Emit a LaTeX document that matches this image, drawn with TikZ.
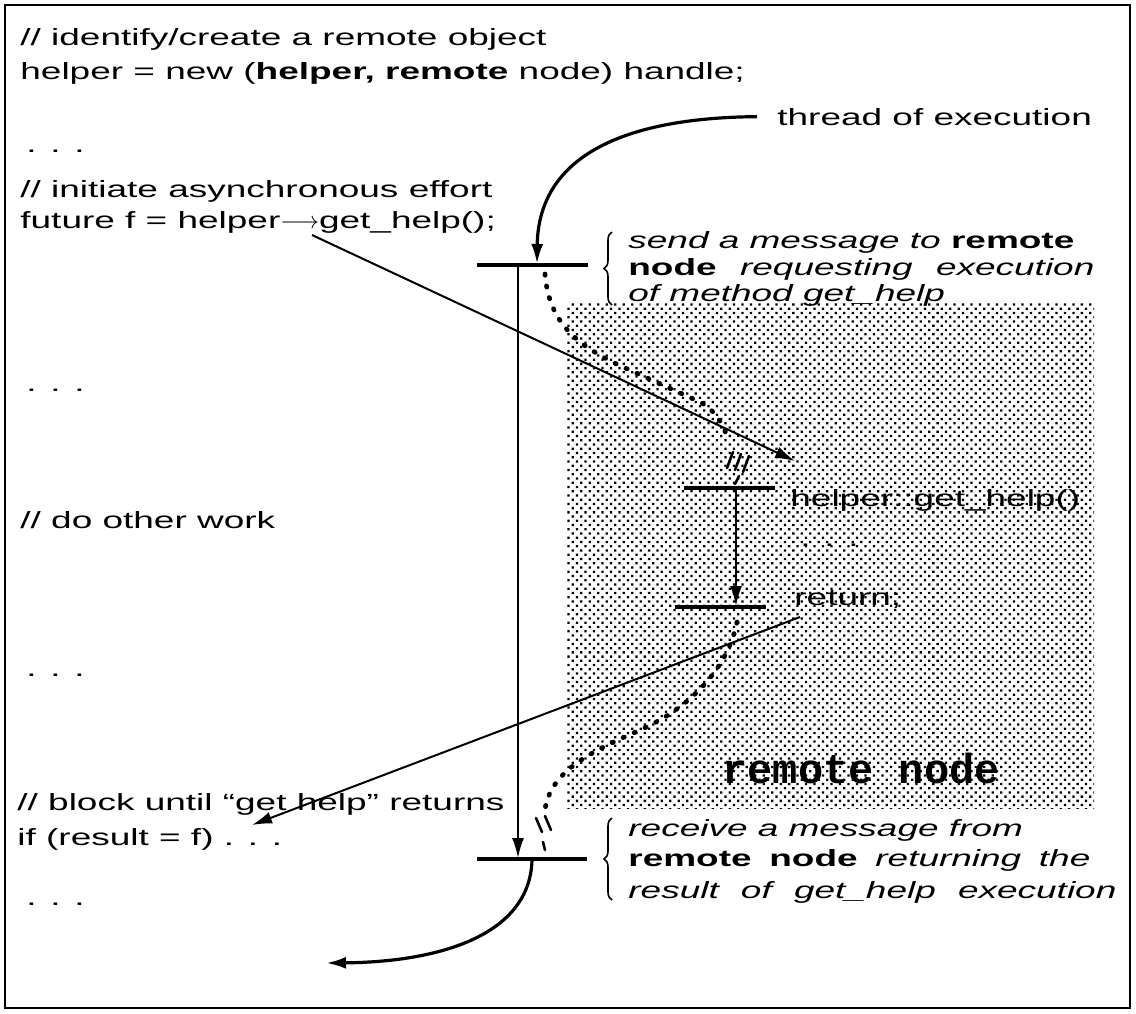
\documentclass[tikz,border=0pt]{standalone}
\usepackage{fontspec}
\setmainfont{Liberation Sans}
\newfontfamily\codefont[FakeStretch=1.58]{Liberation Sans}
\newfontfamily\labelfont{Liberation Mono}
\usetikzlibrary{arrows.meta,patterns.meta,decorations.pathreplacing}
\begin{document}
\begin{tikzpicture}[x=0.5pt,y=-0.5pt,
  txt/.style={anchor=base west,inner sep=0pt,font=\codefont\fontsize{11.7}{14}\selectfont},
  note/.style={anchor=base west,inner sep=0pt,font=\codefont\itshape\fontsize{11.7}{14}\selectfont},
  bar/.style={line width=2pt},
  flow/.style={line width=1pt,-{Latex[length=10pt,width=6pt]}},
  heavy/.style={flow,line width=1.6pt},
  msg/.style={line width=2.4pt,line cap=round,dash pattern=on 0.6pt off 5.4pt},
  hatch/.style={line width=1.3pt,line cap=round},
  curly/.style={decorate,decoration={brace,amplitude=4pt},line width=0.8pt}]

\useasboundingbox (0,0) rectangle (1136,1013);

% shaded area of the remote node
\fill[pattern={Dots[distance=3pt,radius=0.8pt,angle=45]},pattern color=black]
  (567,303) rectangle (1094,808);
\node[anchor=base west,inner sep=0pt,font=\labelfont\bfseries\fontsize{21}{24}\selectfont]
  (rn) at (722,783) {remote node};

% outer frame
\draw[line width=1.3pt] (5,5) rectangle (1130,1008);

% program text on the calling side
\node[txt] (l1) at (20,45)  {// identify/create a remote object};
\node[txt] (l2) at (20,79)  {helper = new ({\bfseries helper, remote} node) handle;};
\node[txt] (d1) at (26,152) {. . .};
\node[txt] (l3) at (20,197) {// initiate asynchronous effort};
\node[txt] (l4) at (20,228) {future f = helper$\longrightarrow$get\_help();};
\node[txt] (d2) at (26,391) {. . .};
\node[txt] (l5) at (20,528) {// do other work};
\node[txt] (d3) at (26,676) {. . .};
\node[txt] (l6) at (17,810) {// block until “get help” returns};
\node[txt] (l7) at (17,845) {if (result = f) . . .};
\node[txt] (d4) at (26,905) {. . .};

% thread label
\node[txt] (thr) at (777,125) {thread of execution};

% remote side text
\node[txt] (hg)  at (790,506) {helper::get\_help()};
\node[txt] (hd)  at (800,546) {. . .};
\node[txt] (ret) at (794,605) {return;};

% annotations with braces
\node[note] (s1) at (628,248) {send a message to {\upshape\bfseries remote}};
\node[note] (s2) at (628,275) {\makebox[233pt][s]{{\upshape\bfseries node} requesting execution}};
\node[note] (s3) at (628,301) {of method get\_help};
\draw[curly] (612,305) -- (612,232);

\node[note] (r1) at (628,836) {receive a message from};
\node[note] (r2) at (628,866) {\makebox[231pt][s]{{\upshape\bfseries remote node} returning the}};
\node[note] (r3) at (628,898) {\makebox[244pt][s]{result of get\_help execution}};
\draw[curly] (612,900) -- (612,818);

% local thread: send bar, wait, receive bar
\coordinate (b1w) at (477,265); \coordinate (b1e) at (588,265);
\coordinate (b2w) at (477,859); \coordinate (b2e) at (587,859);
\coordinate (v1) at (518,265);  \coordinate (v2) at (518,858);
\draw[bar] (b1w) -- (b1e);
\draw[bar] (b2w) -- (b2e);
\draw[flow] (v1) -- (v2);

% remote thread
\coordinate (b3w) at (684,488); \coordinate (b3e) at (775,488);
\coordinate (b4w) at (675,607); \coordinate (b4e) at (766,607);
\coordinate (v3) at (736,488);  \coordinate (v4) at (736,606);
\draw[bar] (b3w) -- (b3e);
\draw[bar] (b4w) -- (b4e);
\draw[flow] (v3) -- (v4);

% thread of execution entering and leaving
\coordinate (tin) at (537,264);
\draw[heavy] ([xshift=-10pt]thr.west) .. controls (600,118) and (538,170) .. (tin);
\coordinate (b2c) at (532,860);
\coordinate (tout) at (326,963);
\draw[heavy] (b2c) .. controls (530,935) and (440,962) .. (tout);

% call and return
\coordinate (dg0) at (312,235); \coordinate (dg1) at (795,461);
\draw[flow] (dg0) -- (dg1);
\coordinate (rt0) at (800,617); \coordinate (rt1) at (252,825);
\draw[flow] (rt0) -- (rt1);

% messages travelling between the nodes
\draw[msg] (545,274) .. controls (549,322) and (575,345) .. (625,368)
  -- (700,402) .. controls (715,410) and (724,425) .. (728,440);
\draw[hatch] (727,468) -- (733,452);
\draw[hatch] (735,470) -- (741,454);
\draw[hatch] (743,472) -- (749,456);
\draw[hatch] (735,484) -- (739,476);

\draw[msg] (737,622) .. controls (728,668) and (690,708) .. (640,730)
  .. controls (595,750) and (550,770) .. (545,810);
\draw[hatch] (536,818) -- (542,832);
\draw[hatch] (545,816) -- (551,830);
\draw[hatch] (543,842) -- (545,850);
\end{tikzpicture}
\end{document}
